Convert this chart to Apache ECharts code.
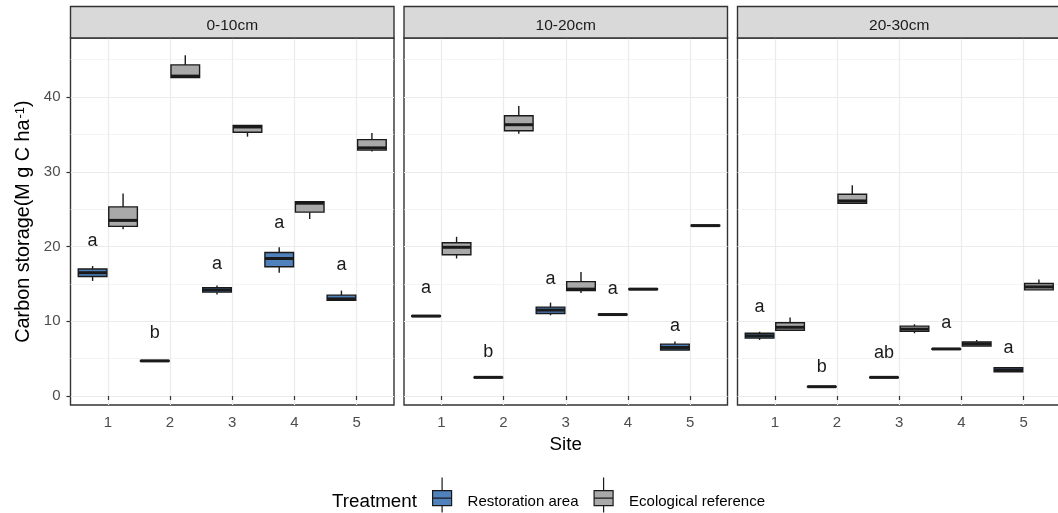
<!DOCTYPE html>
<html><head><meta charset="utf-8">
<script src="https://cdn.jsdelivr.net/npm/echarts@6/dist/echarts.min.js"></script>
<style>html,body{margin:0;padding:0;background:#fff}#c{width:1058px;height:513px}</style>
</head><body><div id="c"></div>
<script>
// ---------- data ----------
const sites = [1, 2, 3, 4, 5];
const siteLabels = ['1', '2', '3', '4', '5'];
const depths = ['0-10cm', '10-20cm', '20-30cm'];
const treatments = ['Restoration area', 'Ecological reference'];
const yTicks = [0, 10, 20, 30, 40];
const yMinorTicks = [5, 15, 25, 35, 45];

// [min, Q1, median, Q3, max] for sites 1..5
const restoration0_10 = [[15.4,16.0,16.5,17.0,17.4],[4.6,4.65,4.7,4.75,4.8],[13.6,13.9,14.2,14.5,14.8],[16.5,17.3,18.4,19.2,19.9],[12.8,12.8,13.0,13.5,14.1]];
const reference0_10   = [[22.3,22.7,23.5,25.3,27.1],[42.6,42.6,42.8,44.3,45.6],[34.7,35.3,36.0,36.2,36.2],[23.7,24.6,25.8,26.0,26.0],[32.7,32.9,33.2,34.3,35.2]];
const restoration10_20 = [[10.6,10.65,10.7,10.75,10.8],[2.45,2.48,2.5,2.52,2.55],[10.8,11.05,11.5,11.9,12.5],[10.8,10.85,10.9,10.95,11.0],[6.15,6.15,6.5,6.95,7.3]];
const reference10_20   = [[18.4,18.9,19.9,20.5,21.3],[35.1,35.5,36.3,37.5,38.8],[13.8,14.1,14.3,15.3,16.6],[14.2,14.25,14.3,14.35,14.4],[22.7,22.75,22.8,22.85,22.9]];
const restoration20_30 = [[7.5,7.75,8.05,8.4,8.6],[1.2,1.22,1.25,1.28,1.3],[2.45,2.48,2.5,2.52,2.55],[6.25,6.28,6.3,6.32,6.35],[3.25,3.25,3.5,3.8,3.8]];
const reference20_30   = [[8.8,8.8,9.2,9.8,10.5],[25.8,25.8,26.1,27.0,28.2],[8.4,8.65,8.95,9.35,9.6],[6.7,6.7,7.0,7.25,7.5],[14.2,14.2,14.6,15.05,15.6]];

const letters0_10 = ['a','b','a','a','a'];
const letterY0_10 = [20.8, 8.4, 17.7, 23.1, 17.5];
const letters10_20 = ['a','b','a','a','a'];
const letterY10_20 = [14.4, 5.9, 15.6, 14.3, 9.4];
const letters20_30 = ['a','b','ab','a','a'];
const letterY20_30 = [11.9, 3.9, 5.7, 9.7, 6.4];

// ---------- layout / style ----------
const FONT = '"Liberation Sans", Arial, sans-serif';
const BLUE = '#4F81BD', GRAY = '#A9A9A9', INK = '#1A1A1A';
const DODGE = 0.245, BOX_W = 0.46;
const gridLefts = [70.5, 404, 737.5];
const PW = 323.5, TOP = 38, PH = 367;
const Y_MIN = -1.2, Y_MAX = 47.9;

const panels = [
  {rest: restoration0_10, ref: reference0_10, letters: letters0_10, ly: letterY0_10},
  {rest: restoration10_20, ref: reference10_20, letters: letters10_20, ly: letterY10_20},
  {rest: restoration20_30, ref: reference20_30, letters: letters20_30, ly: letterY20_30}
];

function boxRender(offset, fill) {
  return function (params, api) {
    const x = api.value(0) + offset;
    const mn = api.value(1), q1 = api.value(2), md = api.value(3), q3 = api.value(4), mx = api.value(5);
    const c = api.coord([x, md]);
    const hw = api.size([BOX_W, 0])[0] / 2;
    const yMin = api.coord([x, mn])[1], yQ1 = api.coord([x, q1])[1];
    const yQ3 = api.coord([x, q3])[1], yMax = api.coord([x, mx])[1];
    return {type: 'group', children: [
      {type: 'line', shape: {x1: c[0], y1: yMax, x2: c[0], y2: yQ3}, style: {stroke: INK, lineWidth: 1.4}},
      {type: 'line', shape: {x1: c[0], y1: yQ1, x2: c[0], y2: yMin}, style: {stroke: INK, lineWidth: 1.4}},
      {type: 'rect', shape: {x: c[0] - hw, y: yQ3, width: 2 * hw, height: Math.max(yQ1 - yQ3, 0.5)}, style: {fill: fill, stroke: INK, lineWidth: 1.4}},
      {type: 'line', shape: {x1: c[0] - hw, y1: c[1], x2: c[0] + hw, y2: c[1]}, style: {stroke: INK, lineWidth: 3}}
    ]};
  };
}

const grids = [], xAxes = [], yAxes = [], series = [], graphics = [];
panels.forEach((p, i) => {
  grids.push({left: gridLefts[i], top: TOP, width: PW, height: PH, show: true,
    borderColor: '#333333', borderWidth: 1.4, backgroundColor: '#fff',
    containLabel: false, outerBoundsMode: 'none'});
  xAxes.push({type: 'value', gridIndex: i, min: 0.4, max: 5.6,
    name: i === 1 ? 'Site' : '', nameLocation: 'middle', nameGap: 30, nameMoveOverlap: false,
    nameTextStyle: {fontSize: 18.8, color: '#000', fontFamily: FONT},
    axisLine: {show: false},
    axisTick: {show: true, length: 4, lineStyle: {color: '#333', width: 1.2}, customValues: sites},
    axisLabel: {show: true, customValues: sites, color: '#4D4D4D', fontSize: 15, margin: 10, fontFamily: FONT,
      formatter: v => siteLabels[Math.round(v) - 1]},
    splitLine: {show: true, lineStyle: {color: '#EBEBEB', width: 1.2}}
  });
  yAxes.push({type: 'value', gridIndex: i, min: Y_MIN, max: Y_MAX, position: 'left',
    name: i === 0 ? '{t|Carbon storage(M g C ha}{s|-1}{t|)}' : '',
    nameLocation: 'middle', nameRotate: 90, nameGap: 37, nameMoveOverlap: false,
    nameTextStyle: {rich: {t: {fontSize: 19.8, color: '#000', fontFamily: FONT},
                           s: {fontSize: 13, color: '#000', fontFamily: FONT, verticalAlign: 'top', padding: [0, 0, 0, 1]}}},
    axisLine: {show: false},
    axisTick: {show: i === 0, length: 4, lineStyle: {color: '#333', width: 1.2}, customValues: yTicks},
    axisLabel: {show: i === 0, customValues: yTicks, color: '#4D4D4D', fontSize: 15, margin: 10, fontFamily: FONT},
    splitLine: {show: true, lineStyle: {color: '#EBEBEB', width: 1.2}}
  });
  series.push({name: treatments[0], type: 'custom', xAxisIndex: i, yAxisIndex: i, z: 5,
    itemStyle: {color: BLUE},
    renderItem: boxRender(-DODGE, BLUE), encode: {x: 0, y: [1, 2, 3, 4, 5]},
    data: sites.map((s, k) => [s].concat(p.rest[k]))});
  series.push({name: treatments[1], type: 'custom', xAxisIndex: i, yAxisIndex: i, z: 5,
    itemStyle: {color: GRAY},
    renderItem: boxRender(DODGE, GRAY), encode: {x: 0, y: [1, 2, 3, 4, 5]},
    data: sites.map((s, k) => [s].concat(p.ref[k]))});
  series.push({name: 'letters-' + i, type: 'custom', xAxisIndex: i, yAxisIndex: i, z: 6,
    renderItem: function (params, api) {
      const c = api.coord([api.value(0) - DODGE, api.value(1)]);
      return {type: 'text', x: c[0], y: c[1], style: {text: p.letters[params.dataIndex],
        fontSize: 18, fontFamily: FONT, fill: INK, align: 'center', verticalAlign: 'middle',
        textAlign: 'center', textVerticalAlign: 'middle'}};
    },
    encode: {x: 0, y: 1},
    data: sites.map((s, k) => [s, p.ly[k]])});
  graphics.push({type: 'rect', shape: {x: gridLefts[i], y: 6.5, width: PW, height: TOP - 6.5},
    style: {fill: '#D9D9D9', stroke: '#333333', lineWidth: 1.4}, z: 10});
  graphics.push({type: 'text', x: gridLefts[i] + PW / 2, y: 26, z: 11,
    style: {text: depths[i], fontSize: 15.5, fontFamily: FONT, fill: INK,
      align: 'center', verticalAlign: 'middle', textAlign: 'center', textVerticalAlign: 'middle'}});
});
// minor grid axes
panels.forEach((p, i) => {
  yAxes.push({type: 'value', gridIndex: i, min: Y_MIN, max: Y_MAX, position: 'right',
    axisLine: {show: false}, axisTick: {show: false, customValues: yMinorTicks},
    axisLabel: {show: false, customValues: yMinorTicks},
    splitLine: {show: true, lineStyle: {color: '#EFEFEF', width: 0.7}}});
});

// key glyph: whisker, box, median, whisker (+ invisible move to lower the text centre)
const keyIcon = 'path://M9.5,0L9.5,13M0,13L19,13L19,28L0,28ZM0,20.5L19,20.5M9.5,28L9.5,35M0,49';

const option = {
  animation: false,
  textStyle: {fontFamily: FONT},
  title: {text: 'Treatment', left: 332, top: 492, padding: 0,
    textStyle: {fontSize: 18.8, fontWeight: 'normal', color: '#000', fontFamily: FONT}},
  legend: {left: 432, top: 477, orient: 'horizontal', itemWidth: 19, itemHeight: 49, itemGap: 15,
    selectedMode: false, padding: 0,
    textStyle: {fontSize: 15, color: '#000', fontFamily: FONT, padding: [0, 0, 0, 11]},
    data: [
      {name: treatments[0], icon: keyIcon, itemStyle: {color: BLUE, borderColor: INK, borderWidth: 1.2}},
      {name: treatments[1], icon: keyIcon, itemStyle: {color: GRAY, borderColor: INK, borderWidth: 1.2}}
    ]},
  grid: grids, xAxis: xAxes, yAxis: yAxes, series: series, graphic: graphics
};
const chart = echarts.init(document.getElementById('c'), null, {renderer: 'canvas'});
chart.setOption(option);
</script></body></html>
